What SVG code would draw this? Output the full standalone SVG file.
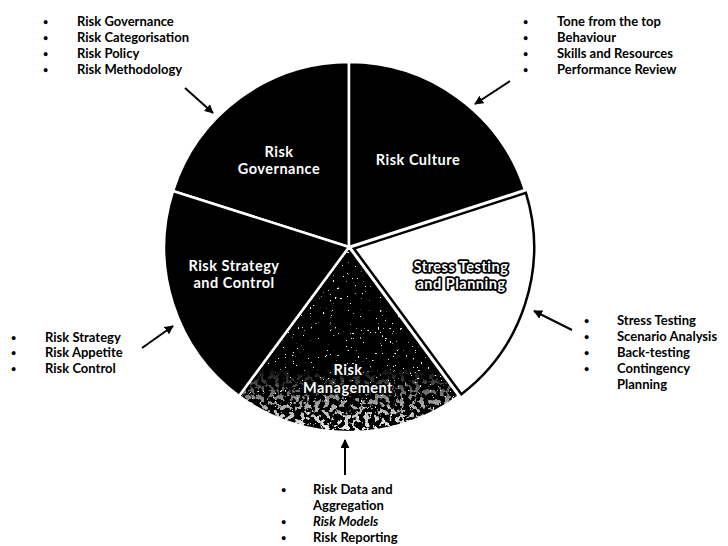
<svg xmlns="http://www.w3.org/2000/svg" width="728" height="546" viewBox="0 0 728 546">
<style>
.slice{fill:#000;stroke:#fff;stroke-width:2.5;stroke-linejoin:miter}
.lbl{font-family:Lato,"Open Sans","Liberation Sans",sans-serif;font-weight:700;font-size:14.5px;fill:#fff;text-anchor:middle;letter-spacing:0.5px}
.lbl2{font-family:Lato,"Open Sans","Liberation Sans",sans-serif;font-weight:700;font-size:14.5px;fill:#fff;stroke:#000;stroke-width:3.5;paint-order:stroke;stroke-linejoin:round;text-anchor:middle;letter-spacing:0.5px}
.lbl3{stroke:#000;stroke-width:2.5;paint-order:stroke;stroke-linejoin:round}
.bl{font-family:Lato,"Open Sans","Liberation Sans",sans-serif;font-weight:700;font-size:13px;fill:#000}
.bl .b{font-size:9px}
.con{stroke:#000;stroke-width:2;fill:none;marker-end:url(#ah)}
</style>
<defs>
<marker id="ah" viewBox="0 0 10 10" refX="9" refY="5" markerWidth="4.5" markerHeight="4.5" orient="auto" markerUnits="strokeWidth">
<path d="M0,0 L10,5 L0,10 Z" fill="#000"/>
</marker>
<clipPath id="mclip"><path d="M349,247 L459,396 A185,185 0 0 1 239,396 Z"/></clipPath>
<filter id="speck" x="0" y="0" width="1" height="1" filterUnits="objectBoundingBox">
<feTurbulence type="fractalNoise" baseFrequency="0.4" numOctaves="2" seed="7"/>
<feColorMatrix type="matrix" values="0 0 0 0 1 0 0 0 0 1 0 0 0 0 1 1 0 0 0 0"/>
<feComponentTransfer><feFuncA type="linear" slope="25" intercept="-17.9"/></feComponentTransfer>
</filter>
<filter id="speck2" x="0" y="0" width="1" height="1" filterUnits="objectBoundingBox">
<feTurbulence type="fractalNoise" baseFrequency="0.2" numOctaves="3" seed="3"/>
<feColorMatrix type="matrix" values="0 0 0 0 1 0 0 0 0 1 0 0 0 0 1 1 0 0 0 0"/>
<feComponentTransfer><feFuncA type="linear" slope="20" intercept="-10.4"/></feComponentTransfer>
</filter>
<linearGradient id="fadeg" x1="0" y1="0" x2="0" y2="1">
<stop offset="0" stop-color="#fff" stop-opacity="0"/>
<stop offset="0.5" stop-color="#fff" stop-opacity="0.6"/>
<stop offset="1" stop-color="#fff" stop-opacity="1"/>
</linearGradient>
<mask id="fade" maskUnits="userSpaceOnUse" x="230" y="340" width="240" height="100">
<rect x="230" y="368" width="240" height="67" fill="url(#fadeg)"/>
</mask>
</defs>

<g id="risk-governance">
<path class="slice" d="M349,247 L173,191 A185,185 0 0 1 349,62 Z"/>
<text class="lbl" x="279" y="157">Risk</text>
<text class="lbl" x="279" y="174">Governance</text>
</g>
<g id="risk-culture">
<path class="slice" d="M349,247 L349,62 A185,185 0 0 1 525,190 Z"/>
<text class="lbl" x="418" y="165">Risk Culture</text>
</g>
<g id="stress-testing">
<path d="M353.9,248.6 L525.9,192.9 A185,185 0 0 1 461.4,394.2 Z" fill="#fff" stroke="#000" stroke-width="2.5"/>
<text class="lbl2" x="461" y="272">Stress Testing</text>
<text class="lbl2" x="461" y="289">and Planning</text>
</g>
<g id="risk-management">
<path class="slice" d="M349,247 L459,396 A185,185 0 0 1 239,396 Z"/>
<g clip-path="url(#mclip)">
<rect x="235" y="245" width="230" height="190" filter="url(#speck)"/>
<g mask="url(#fade)"><rect x="235" y="360" width="230" height="75" filter="url(#speck2)"/></g>
</g>
<text class="lbl lbl3" x="348" y="375">Risk</text>
<text class="lbl lbl3" x="348" y="393">Management</text>
</g>
<g id="risk-strategy">
<path class="slice" d="M349,247 L239,396 A185,185 0 0 1 173,191 Z"/>
<text class="lbl" x="234" y="271">Risk Strategy</text>
<text class="lbl" x="234" y="288">and Control</text>
</g>

<g id="list-governance" class="bl">
<text class="b" x="43" y="25">•</text><text x="77" y="26">Risk Governance</text>
<text class="b" x="43" y="41">•</text><text x="77" y="42">Risk Categorisation</text>
<text class="b" x="43" y="57">•</text><text x="77" y="58">Risk Policy</text>
<text class="b" x="43" y="73">•</text><text x="77" y="74">Risk Methodology</text>
</g>
<g id="list-culture" class="bl">
<text class="b" x="523" y="25">•</text><text x="557" y="26">Tone from the top</text>
<text class="b" x="523" y="41">•</text><text x="557" y="42">Behaviour</text>
<text class="b" x="523" y="57">•</text><text x="557" y="58">Skills and Resources</text>
<text class="b" x="523" y="73">•</text><text x="557" y="74">Performance Review</text>
</g>
<g id="list-strategy" class="bl">
<text class="b" x="11" y="341">•</text><text x="45" y="342">Risk Strategy</text>
<text class="b" x="11" y="356">•</text><text x="45" y="357">Risk Appetite</text>
<text class="b" x="11" y="372">•</text><text x="45" y="373">Risk Control</text>
</g>
<g id="list-stress" class="bl">
<text class="b" x="584" y="324">•</text><text x="617" y="325">Stress Testing</text>
<text class="b" x="584" y="340">•</text><text x="617" y="341">Scenario Analysis</text>
<text class="b" x="584" y="356">•</text><text x="617" y="357">Back-testing</text>
<text class="b" x="584" y="372">•</text><text x="617" y="373">Contingency</text>
<text x="617" y="389">Planning</text>
</g>
<g id="list-management" class="bl">
<text class="b" x="281" y="493">•</text><text x="313" y="494">Risk Data and</text>
<text x="313" y="510">Aggregation</text>
<text class="b" x="281" y="525">•</text><text x="313" y="526" font-style="italic">Risk Models</text>
<text class="b" x="281" y="541">•</text><text x="313" y="542">Risk Reporting</text>
</g>

<g id="connectors">
<line class="con" x1="185" y1="88" x2="213" y2="113"/>
<line class="con" x1="510" y1="81" x2="475" y2="104"/>
<line class="con" x1="142" y1="348" x2="173" y2="326"/>
<line class="con" x1="572" y1="330" x2="534" y2="311"/>
<line class="con" x1="345" y1="475" x2="345" y2="440"/>
</g>
</svg>
